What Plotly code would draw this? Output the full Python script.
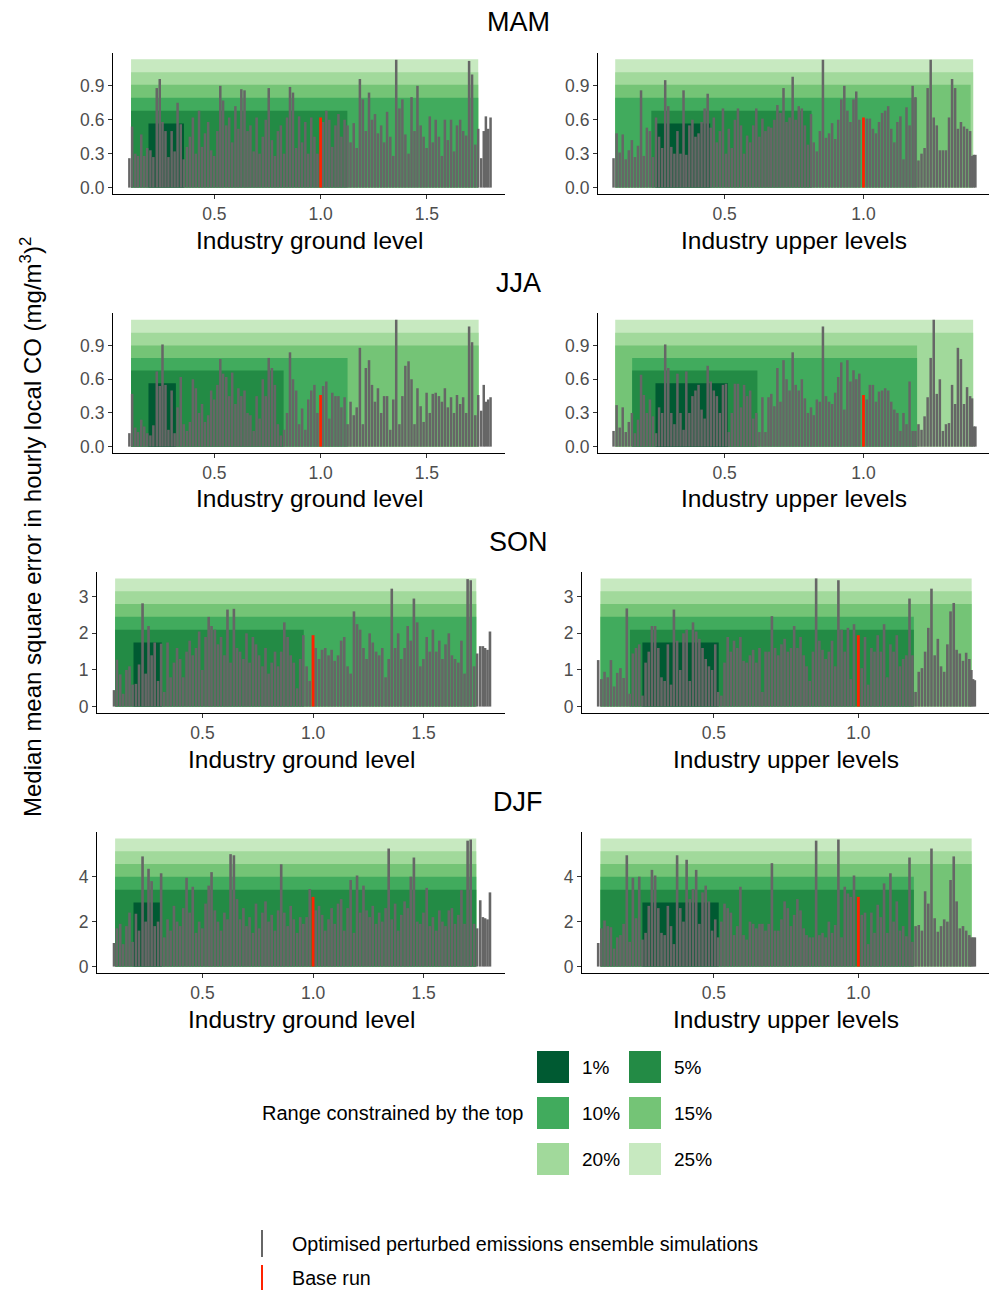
import plotly.graph_objects as go

W, H = 993, 1290

# ---------------- data ----------------
seasons = ["MAM", "JJA", "SON", "DJF"]
base_run = [0.62, 0.46, 1.95, 3.10]

ground_x = [
    0.100, 0.113, 0.128, 0.141, 0.156, 0.170, 0.184, 0.199, 0.213, 0.229,
    0.243, 0.256, 0.270, 0.284, 0.299, 0.313, 0.327, 0.342, 0.356, 0.371,
    0.385, 0.399, 0.413, 0.428, 0.442, 0.456, 0.471, 0.485, 0.499, 0.514,
    0.528, 0.541, 0.556, 0.570, 0.584, 0.599, 0.613, 0.627, 0.642, 0.656,
    0.670, 0.685, 0.699, 0.713, 0.728, 0.742, 0.756, 0.771, 0.785, 0.799,
    0.813, 0.828, 0.842, 0.856, 0.870, 0.885, 0.899, 0.913, 0.928, 0.942,
    0.956, 0.971, 0.985, 1.012, 1.027, 1.041, 1.055, 1.070, 1.084, 1.098,
    1.113, 1.127, 1.141, 1.156, 1.170, 1.185, 1.199, 1.213, 1.228, 1.242,
    1.256, 1.270, 1.285, 1.299, 1.313, 1.328, 1.342, 1.356, 1.371, 1.385,
    1.399, 1.414, 1.428, 1.442, 1.456, 1.471, 1.485, 1.499, 1.514, 1.528,
    1.542, 1.557, 1.571, 1.585, 1.599, 1.614, 1.628, 1.642, 1.657, 1.671,
    1.685, 1.699, 1.713, 1.728, 1.742, 1.756, 1.768, 1.778, 1.789, 1.800]

upper_x = [
    0.100, 0.111, 0.122, 0.133, 0.144, 0.155, 0.166, 0.177, 0.188, 0.199,
    0.209, 0.220, 0.231, 0.242, 0.253, 0.264, 0.275, 0.286, 0.297, 0.308,
    0.319, 0.330, 0.341, 0.352, 0.362, 0.373, 0.384, 0.395, 0.406, 0.417,
    0.428, 0.439, 0.450, 0.461, 0.472, 0.483, 0.494, 0.505, 0.515, 0.526,
    0.537, 0.548, 0.559, 0.570, 0.581, 0.592, 0.603, 0.614, 0.625, 0.636,
    0.647, 0.658, 0.668, 0.679, 0.690, 0.701, 0.712, 0.723, 0.734, 0.745,
    0.756, 0.767, 0.778, 0.789, 0.800, 0.811, 0.821, 0.832, 0.843, 0.854,
    0.865, 0.876, 0.887, 0.898, 0.909, 0.920, 0.931, 0.942, 0.953, 0.964,
    0.974, 0.985, 1.012, 1.023, 1.034, 1.045, 1.056, 1.067, 1.078, 1.089,
    1.100, 1.111, 1.122, 1.133, 1.144, 1.155, 1.166, 1.177, 1.187, 1.198,
    1.209, 1.220, 1.231, 1.242, 1.253, 1.264, 1.275, 1.286, 1.297, 1.308,
    1.319, 1.330, 1.340, 1.351, 1.362, 1.373, 1.384, 1.391, 1.397, 1.403]

mam_ground = [
    0.26, 0.54, 0.30, 0.28, 0.47, 0.28, 0.35, 0.33, 0.27, 0.88,
    0.96, 0.58, 0.50, 0.27, 0.50, 0.32, 0.75, 0.56, 0.25, 0.36,
    0.45, 0.62, 0.30, 0.68, 0.36, 0.48, 0.58, 0.33, 0.28, 0.50,
    0.90, 0.77, 0.55, 0.62, 0.40, 0.72, 0.52, 0.87, 0.86, 0.50,
    0.55, 0.32, 0.62, 0.30, 0.45, 0.60, 0.88, 0.42, 0.28, 0.50,
    0.55, 0.30, 0.62, 0.89, 0.84, 0.35, 0.63, 0.40, 0.58, 0.30,
    0.62, 0.45, 0.30, 0.58, 0.68, 0.60, 0.36, 0.55, 0.65, 0.45,
    0.60, 0.55, 0.40, 0.57, 0.35, 0.96, 0.78, 0.50, 0.84, 0.60,
    0.65, 0.48, 0.55, 0.40, 0.67, 0.45, 0.28, 1.13, 0.70, 0.78,
    0.47, 0.30, 0.80, 0.50, 0.90, 0.55, 0.45, 0.35, 0.63, 0.40,
    0.60, 0.45, 0.28, 0.60, 0.42, 0.60, 0.32, 0.55, 0.60, 0.50,
    0.46, 1.12, 1.00, 0.38, 0.52, 0.26, 0.50, 0.63, 0.52, 0.62]

jja_ground = [
    0.12, 0.47, 0.17, 0.13, 0.24, 0.18, 0.12, 0.10, 0.19, 0.67,
    0.54, 0.91, 0.55, 0.15, 0.50, 0.12, 0.35, 0.62, 0.20, 0.14,
    0.22, 0.60, 0.52, 0.30, 0.38, 0.22, 0.28, 0.50, 0.42, 0.55,
    0.78, 0.65, 0.62, 0.45, 0.66, 0.38, 0.52, 0.45, 0.50, 0.30,
    0.28, 0.14, 0.45, 0.25, 0.60, 0.45, 0.79, 0.70, 0.55, 0.20,
    0.10, 0.15, 0.30, 0.84, 0.60, 0.50, 0.20, 0.34, 0.15, 0.42,
    0.50, 0.55, 0.30, 0.54, 0.58, 0.25, 0.48, 0.45, 0.45, 0.35,
    0.44, 0.20, 0.40, 0.28, 0.35, 0.88, 0.20, 0.70, 0.77, 0.55,
    0.40, 0.52, 0.30, 0.45, 0.45, 0.15, 0.42, 1.13, 0.20, 0.45,
    0.72, 0.76, 0.60, 0.20, 0.52, 0.36, 0.22, 0.48, 0.30, 0.47,
    0.48, 0.45, 0.40, 0.52, 0.35, 0.44, 0.30, 0.46, 0.38, 0.44,
    0.30, 1.07, 0.93, 0.28, 0.46, 0.32, 0.55, 0.40, 0.42, 0.44]

son_ground = [
    0.45, 1.28, 0.88, 0.35, 1.00, 1.10, 0.60, 0.62, 1.15, 2.82,
    0.90, 2.20, 1.40, 1.75, 0.70, 1.72, 0.40, 1.75, 0.80, 1.20,
    1.60, 1.30, 0.80, 1.50, 1.80, 1.40, 1.60, 2.05, 1.00, 1.90,
    2.45, 2.20, 2.10, 1.70, 1.90, 1.40, 2.65, 1.20, 2.67, 1.60,
    1.50, 1.30, 2.00, 1.20, 1.90, 1.70, 1.40, 1.10, 1.60, 0.90,
    1.20, 1.50, 1.10, 1.50, 2.30, 1.90, 1.40, 1.20, 0.50, 1.30,
    1.95, 1.10, 0.70, 1.60, 1.30, 1.55, 1.60, 1.40, 1.55, 1.25,
    1.40, 1.80, 1.90, 1.10, 0.90, 2.60, 2.25, 2.10, 1.60, 1.30,
    2.00, 1.75, 1.50, 1.40, 1.60, 0.80, 1.30, 3.22, 1.60, 2.00,
    1.30, 1.60, 2.20, 1.80, 2.95, 2.30, 1.10, 1.30, 1.90, 1.50,
    2.10, 1.50, 1.80, 1.30, 1.70, 2.00, 1.40, 1.30, 1.20, 1.80,
    0.90, 3.48, 3.45, 1.10, 1.45, 1.65, 1.65, 1.60, 1.55, 2.05]

djf_ground = [
    1.05, 1.70, 1.90, 1.00, 1.80, 2.40, 1.10, 2.35, 1.60, 4.90,
    2.00, 4.35, 3.80, 1.80, 2.00, 4.15, 1.30, 2.10, 1.60, 2.70,
    2.00, 1.80, 2.60, 3.95, 2.40, 3.55, 1.50, 2.00, 1.70, 2.80,
    3.60, 4.20, 2.50, 2.00, 1.60, 2.40, 2.10, 5.00, 4.95, 3.00,
    2.10, 2.60, 1.80, 2.20, 1.50, 2.80, 1.70, 2.40, 2.90, 2.00,
    2.30, 1.60, 2.50, 4.55, 2.40, 1.80, 2.70, 2.10, 1.50, 2.20,
    1.90, 2.20, 3.45, 2.50, 2.70, 2.30, 1.60, 2.10, 2.60, 1.90,
    2.80, 3.00, 1.60, 2.60, 3.85, 1.50, 4.05, 2.40, 3.60, 2.50,
    2.20, 2.70, 1.90, 2.40, 2.00, 2.60, 5.25, 2.10, 2.80, 1.60,
    2.30, 2.90, 2.60, 4.00, 4.85, 2.00, 1.90, 2.40, 3.50, 1.80,
    2.20, 1.60, 2.50, 2.00, 1.80, 2.50, 2.60, 1.90, 2.30, 3.40,
    1.90, 5.60, 5.65, 1.90, 1.70, 2.95, 2.20, 2.15, 2.10, 3.30]

mam_upper = [
    0.26, 0.48, 0.31, 0.47, 0.25, 0.33, 0.42, 0.27, 0.37, 0.86,
    0.28, 0.53, 0.50, 0.27, 0.62, 0.45, 0.35, 0.95, 0.72, 0.36,
    0.30, 0.50, 0.30, 0.86, 0.29, 0.55, 0.60, 0.45, 0.48, 0.58,
    0.70, 0.83, 0.53, 0.62, 0.40, 0.50, 0.70, 0.30, 0.52, 0.35,
    0.60, 0.70, 0.55, 0.30, 0.46, 0.40, 0.55, 0.70, 0.45, 0.61,
    0.50, 0.54, 0.53, 0.60, 0.73, 0.66, 0.88, 0.58, 0.62, 0.98,
    0.60, 0.72, 0.70, 0.55, 0.38, 0.65, 0.40, 0.32, 0.50, 1.13,
    0.44, 0.48, 0.57, 0.43, 0.60, 0.78, 0.90, 0.68, 0.58, 0.78,
    0.85, 0.60, 0.61, 0.61, 0.52, 0.48, 0.58, 0.66, 0.68, 0.72,
    0.52, 0.40, 0.58, 0.63, 0.25, 0.71, 0.55, 0.90, 0.80, 0.24,
    0.30, 0.35, 0.88, 1.13, 0.62, 0.55, 0.33, 0.33, 0.33, 0.62,
    0.96, 0.88, 0.52, 0.58, 0.54, 0.52, 0.50, 0.28, 0.29, 0.29]

jja_upper = [
    0.14, 0.37, 0.17, 0.35, 0.13, 0.22, 0.30, 0.12, 0.24, 0.64,
    0.46, 0.30, 0.42, 0.27, 0.12, 0.35, 0.30, 0.91, 0.70, 0.30,
    0.20, 0.65, 0.30, 0.15, 0.67, 0.30, 0.45, 0.50, 0.55, 0.33,
    0.25, 0.72, 0.58, 0.50, 0.45, 0.30, 0.55, 0.56, 0.13, 0.30,
    0.56, 0.56, 0.35, 0.55, 0.45, 0.50, 0.25, 0.30, 0.13, 0.44,
    0.13, 0.44, 0.47, 0.36, 0.70, 0.40, 0.77, 0.60, 0.50, 0.84,
    0.55, 0.50, 0.60, 0.43, 0.30, 0.35, 0.28, 0.42, 0.40, 1.07,
    0.45, 0.40, 0.38, 0.48, 0.62, 0.75, 0.33, 0.77, 0.58, 0.68,
    0.60, 0.65, 0.42, 0.55, 0.55, 0.40, 0.49, 0.50, 0.52, 0.50,
    0.40, 0.33, 0.30, 0.14, 0.30, 0.20, 0.58, 0.14, 0.14, 0.20,
    0.15, 0.27, 0.44, 0.79, 1.13, 0.47, 0.60, 0.14, 0.20, 0.21,
    0.55, 0.38, 0.88, 0.78, 0.38, 0.53, 0.45, 0.43, 0.18, 0.18]

son_upper = [
    1.27, 0.75, 0.95, 0.80, 1.27, 0.55, 0.92, 1.05, 0.78, 2.68,
    0.35, 1.45, 1.60, 1.70, 0.30, 1.20, 1.50, 2.20, 2.20, 1.60,
    0.80, 0.70, 1.70, 0.60, 2.65, 1.80, 1.00, 2.00, 2.10, 0.70,
    2.30, 2.05, 1.85, 1.60, 1.30, 1.10, 1.00, 1.70, 0.40, 0.30,
    1.20, 1.90, 1.50, 1.80, 1.60, 1.90, 1.25, 1.20, 1.40, 1.55,
    1.20, 1.60, 0.40, 1.50, 1.50, 2.47, 1.60, 1.40, 1.70, 1.85,
    1.50, 1.60, 2.20, 1.60, 1.90, 1.40, 1.10, 0.70, 1.50, 3.50,
    1.80, 1.55, 1.30, 1.50, 1.80, 1.10, 3.45, 2.10, 1.50, 2.15,
    0.75, 2.25, 1.05, 1.90, 0.60, 1.60, 1.50, 1.95, 1.50, 2.25,
    0.80, 1.70, 1.50, 1.95, 1.10, 1.30, 1.40, 2.95, 1.40, 0.40,
    0.95, 1.05, 1.50, 2.15, 3.22, 1.40, 1.85, 1.10, 0.95, 1.70,
    2.60, 2.83, 1.55, 1.45, 1.25, 1.47, 1.30, 1.00, 0.75, 0.72]

djf_upper = [
    1.05, 1.70, 2.05, 1.80, 1.75, 0.80, 1.30, 1.40, 1.90, 4.95,
    1.10, 3.95, 2.15, 4.00, 1.20, 1.50, 2.70, 4.30, 4.05, 2.60,
    1.50, 1.40, 2.70, 1.80, 1.00, 4.95, 2.60, 2.00, 4.75, 3.00,
    3.45, 4.30, 1.90, 3.30, 3.60, 2.90, 1.60, 2.10, 1.30, 2.00,
    2.80, 2.60, 2.40, 1.40, 1.80, 3.55, 1.40, 1.20, 2.00, 1.90,
    1.70, 1.90, 1.90, 1.60, 1.90, 4.60, 1.60, 1.60, 2.10, 2.90,
    2.60, 1.80, 2.30, 3.00, 2.50, 1.70, 1.40, 1.30, 1.30, 5.60,
    1.40, 1.50, 1.30, 2.00, 1.50, 1.85, 5.65, 1.30, 3.55, 3.25,
    3.10, 4.05, 2.30, 2.40, 1.00, 2.40, 1.50, 2.75, 2.20, 3.70,
    1.50, 4.15, 2.00, 2.90, 1.60, 1.80, 1.35, 4.85, 1.10, 1.80,
    1.85, 1.60, 3.35, 2.80, 5.25, 2.15, 1.55, 1.80, 2.10, 2.00,
    3.85, 4.90, 2.90, 1.70, 1.80, 1.60, 1.40, 1.30, 1.30, 1.30]

band_labels = ["25%", "20%", "15%", "10%", "5%", "1%"]
band_colors = ["#c7e9c0", "#a1d99b", "#74c476", "#41ab5d", "#238b45", "#005a32"]

# tops of the constrained-range bands (25% ... 1%)
mam_band_top = [1.135, 1.020, 0.910, 0.795, 0.680, 0.567]
jja_band_top = [1.130, 1.015, 0.900, 0.790, 0.677, 0.565]
son_band_top = [3.50, 3.15, 2.80, 2.45, 2.10, 1.75]
djf_band_top = [5.70, 5.13, 4.56, 3.99, 3.42, 2.85]

# x ranges of the constrained-range bands (25% ... 1%)
mam_ground_lo = [0.108, 0.108, 0.108, 0.108, 0.108, 0.190]
mam_ground_hi = [1.742, 1.742, 1.742, 1.742, 1.126, 0.357]
mam_upper_lo = [0.106, 0.106, 0.106, 0.106, 0.236, 0.251]
mam_upper_hi = [1.395, 1.395, 1.386, 1.193, 0.813, 0.448]
jja_ground_lo = [0.108, 0.108, 0.108, 0.108, 0.108, 0.190]
jja_ground_hi = [1.744, 1.744, 1.744, 1.127, 0.826, 0.319]
jja_upper_lo = [0.106, 0.106, 0.106, 0.167, 0.167, 0.251]
jja_upper_hi = [1.395, 1.395, 1.193, 1.193, 0.618, 0.512]
son_ground_lo = [0.105, 0.105, 0.105, 0.105, 0.105, 0.188]
son_ground_hi = [1.738, 1.738, 1.738, 1.738, 0.958, 0.316]
son_upper_lo = [0.108, 0.108, 0.108, 0.108, 0.210, 0.253]
son_upper_hi = [1.392, 1.392, 1.392, 1.192, 1.192, 0.517]
djf_ground_lo = [0.105, 0.105, 0.105, 0.105, 0.105, 0.188]
djf_ground_hi = [1.738, 1.738, 1.738, 1.738, 1.738, 0.316]
djf_upper_lo = [0.108, 0.108, 0.108, 0.108, 0.108, 0.253]
djf_upper_hi = [1.392, 1.392, 1.392, 1.192, 1.192, 0.517]

ground_ticks = [0.5, 1.0, 1.5]
upper_ticks = [0.5, 1.0]
y_ticks = [[0.0, 0.3, 0.6, 0.9], [0.0, 0.3, 0.6, 0.9], [0, 1, 2, 3], [0, 2, 4]]

# ---------------- layout helpers ----------------
FONT = "Liberation Sans, Arial, Helvetica, sans-serif"


def px(x):
    return x / W


def py(y):
    return 1 - y / H


rows_y = [(53, 194), (313, 453), (572, 713), (832, 973)]
left_x = [(113, 505), (113, 505), (97, 505), (97, 505)]
right_x = [(598, 989), (598, 989), (582, 989), (582, 989)]
y_ranges = [(-0.0565, 1.19), (-0.0565, 1.19), (-0.175, 3.675), (-0.285, 5.985)]
ground_range = [0.023, 1.868]
upper_range = [0.044, 1.452]
title_y = [22, 283, 542, 802]

panel_data = {
    ("MAM", "ground"): (mam_ground, mam_ground_lo, mam_ground_hi, mam_band_top),
    ("MAM", "upper"): (mam_upper, mam_upper_lo, mam_upper_hi, mam_band_top),
    ("JJA", "ground"): (jja_ground, jja_ground_lo, jja_ground_hi, jja_band_top),
    ("JJA", "upper"): (jja_upper, jja_upper_lo, jja_upper_hi, jja_band_top),
    ("SON", "ground"): (son_ground, son_ground_lo, son_ground_hi, son_band_top),
    ("SON", "upper"): (son_upper, son_upper_lo, son_upper_hi, son_band_top),
    ("DJF", "ground"): (djf_ground, djf_ground_lo, djf_ground_hi, djf_band_top),
    ("DJF", "upper"): (djf_upper, djf_upper_lo, djf_upper_hi, djf_band_top),
}

fig = go.Figure()
annotations = []
shapes = []
layout_axes = {}

k = 0
for r, season in enumerate(seasons):
    for c, level in enumerate(["ground", "upper"]):
        k += 1
        xa = "x" if k == 1 else f"x{k}"
        ya = "y" if k == 1 else f"y{k}"
        heights, lo, hi, tops = panel_data[(season, level)]
        xs = ground_x if level == "ground" else upper_x
        bw = 0.0118 if level == "ground" else 0.0090
        rw = 0.013 if level == "ground" else 0.010

        for i in range(len(band_labels)):
            fig.add_trace(go.Bar(
                x=[(lo[i] + hi[i]) / 2], y=[tops[i]], width=[hi[i] - lo[i]],
                marker=dict(color=band_colors[i], line=dict(width=0)),
                xaxis=xa, yaxis=ya, showlegend=False, hoverinfo="skip"))
        fig.add_trace(go.Bar(
            x=xs, y=heights, width=bw,
            marker=dict(color="#666666", line=dict(width=0)),
            xaxis=xa, yaxis=ya, showlegend=False))
        fig.add_trace(go.Bar(
            x=[1.0], y=[base_run[r]], width=rw,
            marker=dict(color="#ff2200", line=dict(width=0)),
            xaxis=xa, yaxis=ya, showlegend=False))

        x0, x1 = (left_x[r] if level == "ground" else right_x[r])
        y0, y1 = rows_y[r]
        xkey = "xaxis" if k == 1 else f"xaxis{k}"
        ykey = "yaxis" if k == 1 else f"yaxis{k}"
        layout_axes[xkey] = dict(
            domain=[px(x0), px(x1)], anchor=ya,
            range=ground_range if level == "ground" else upper_range,
            tickvals=ground_ticks if level == "ground" else upper_ticks,
            tickformat=".1f",
            showline=True, linecolor="black", linewidth=1.1,
            ticks="outside", ticklen=4, tickwidth=1, tickcolor="#333333",
            tickfont=dict(size=17.5, color="#4d4d4d", family=FONT),
            showgrid=False, zeroline=False, automargin=False, fixedrange=True)
        layout_axes[ykey] = dict(
            domain=[py(y1), py(y0)], anchor=xa,
            range=list(y_ranges[r]),
            tickvals=y_ticks[r],
            tickformat=".1f" if r < 2 else "d",
            showline=True, linecolor="black", linewidth=1.1,
            ticks="outside", ticklen=4, tickwidth=1, tickcolor="#333333",
            tickfont=dict(size=17.5, color="#4d4d4d", family=FONT),
            showgrid=False, zeroline=False, automargin=False, fixedrange=True)

        annotations.append(dict(
            text="Industry ground level" if level == "ground" else "Industry upper levels",
            x=px((x0 + x1) / 2), y=py(y1 + 46), xref="paper", yref="paper",
            xanchor="center", yanchor="middle", showarrow=False,
            font=dict(size=24.5, color="black", family=FONT)))

    annotations.append(dict(
        text=season, x=px(518), y=py(title_y[r]), xref="paper", yref="paper",
        xanchor="center", yanchor="middle", showarrow=False,
        font=dict(size=27, color="black", family=FONT)))

# y-axis title
annotations.append(dict(
    text="Median mean square error in hourly local CO (mg/m<sup>3</sup>)<sup>2</sup>",
    x=px(31), y=py(527), xref="paper", yref="paper", textangle=-90,
    xanchor="center", yanchor="middle", showarrow=False,
    font=dict(size=24, color="black", family=FONT)))

# legend: constrained ranges
annotations.append(dict(
    text="Range constrained by the top", x=px(525), y=py(1113),
    xref="paper", yref="paper", xanchor="right", yanchor="middle",
    showarrow=False, font=dict(size=20, color="black", family=FONT)))
legend_order = ["1%", "5%", "10%", "15%", "20%", "25%"]
key_cols = [(537, 569), (629, 661)]
key_rows = [(1051, 1083), (1097, 1129), (1143, 1175)]
for j, lab in enumerate(legend_order):
    rr, cc = divmod(j, 2)
    col = band_colors[band_labels.index(lab)]
    kx0, kx1 = key_cols[cc]
    ky0, ky1 = key_rows[rr]
    shapes.append(dict(type="rect", xref="paper", yref="paper",
                       x0=px(kx0), x1=px(kx1), y0=py(ky1), y1=py(ky0),
                       fillcolor=col, line=dict(width=0)))
    annotations.append(dict(
        text=lab, x=px(kx1 + 11), y=py((ky0 + ky1) / 2),
        xref="paper", yref="paper", xanchor="left", yanchor="middle",
        showarrow=False, font=dict(size=19, color="black", family=FONT)))

# legend: lines
for (ly0, ly1, col, lab) in [(1230, 1257, "#666666", "Optimised perturbed emissions ensemble simulations"),
                             (1265, 1290, "#ff2200", "Base run")]:
    shapes.append(dict(type="line", xref="paper", yref="paper",
                       x0=px(262), x1=px(262), y0=py(ly1), y1=py(ly0),
                       line=dict(color=col, width=2)))
    annotations.append(dict(
        text=lab, x=px(290), y=py((ly0 + ly1) / 2),
        xref="paper", yref="paper", xanchor="left", yanchor="middle",
        showarrow=False, font=dict(size=19.7, color="black", family=FONT)))

fig.update_layout(
    width=W, height=H, margin=dict(l=0, r=0, t=0, b=0),
    paper_bgcolor="white", plot_bgcolor="white",
    barmode="overlay", showlegend=False,
    font=dict(family=FONT),
    annotations=annotations, shapes=shapes,
    **layout_axes)

fig.write_html("out.html")
